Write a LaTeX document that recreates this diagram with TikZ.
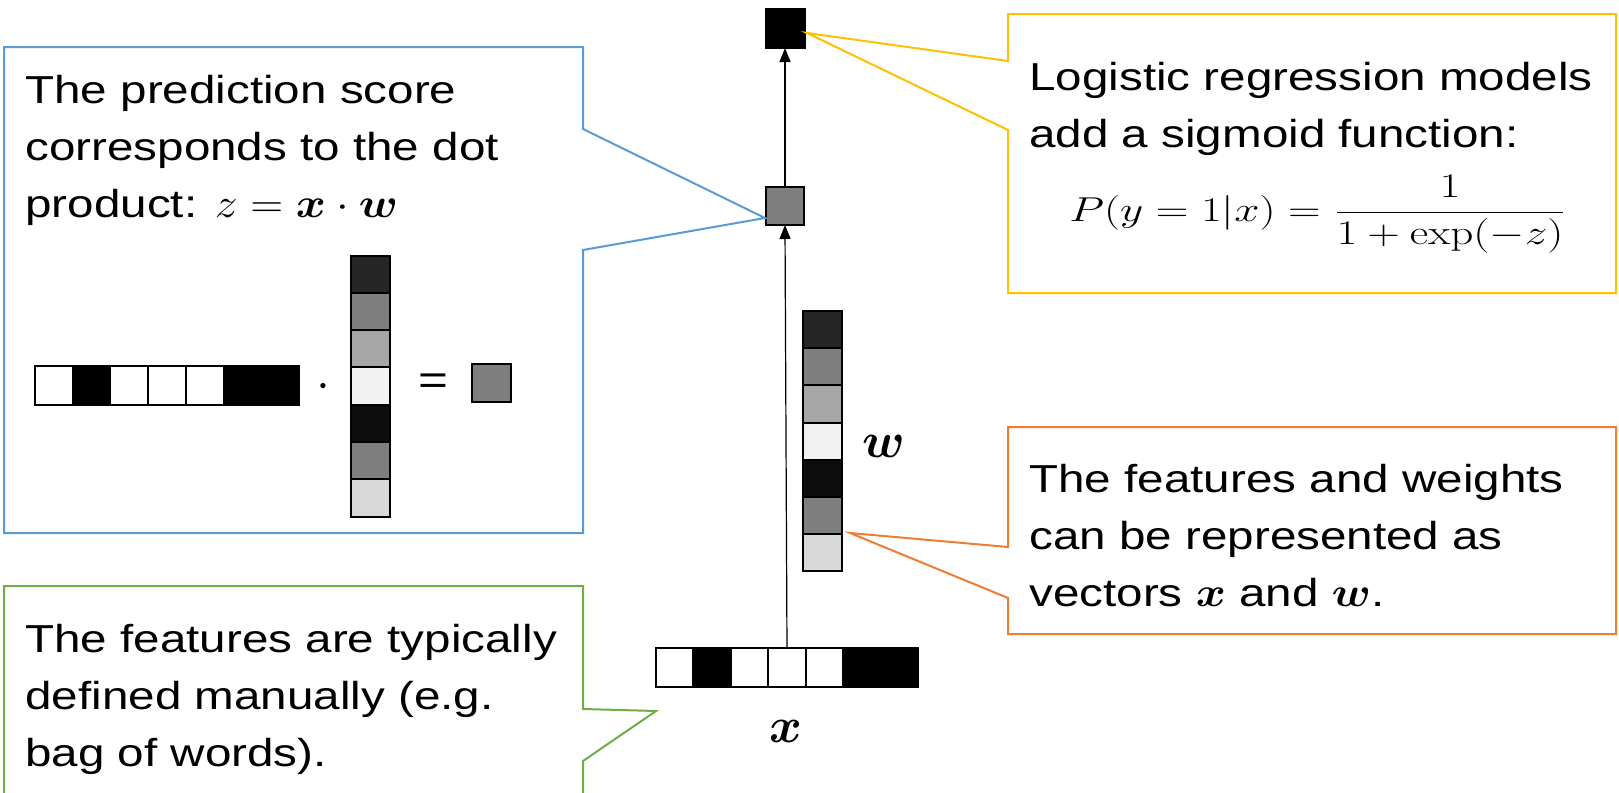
\documentclass[tikz,border=0pt]{standalone}
\usepackage{amsmath}
\usepackage[no-math]{fontspec}
\setmainfont{Liberation Sans}[FakeStretch=1.22]
\usepackage{bm}
\usetikzlibrary{arrows.meta}

\definecolor{calblue}{HTML}{5B9BD5}
\definecolor{calorange}{HTML}{ED7D31}
\definecolor{calyellow}{HTML}{FFC000}
\definecolor{calgreen}{HTML}{70AD47}
\definecolor{wa}{HTML}{262626}
\definecolor{wb}{HTML}{7F7F7F}
\definecolor{wc}{HTML}{A6A6A6}
\definecolor{wd}{HTML}{F2F2F2}
\definecolor{we}{HTML}{0D0D0D}
\definecolor{wf}{HTML}{7F7F7F}
\definecolor{wg}{HTML}{D9D9D9}

% widened math, to sit with the widened text face
\newcommand{\wmath}[2][1.15]{\scalebox{#1}[1]{$#2$}}

\tikzset{
  callout/.style={line width=1pt, fill=white, line join=miter},
  cell/.style={draw=black, line width=1pt, inner sep=0pt, outer sep=0pt,
               minimum width=18.85pt, minimum height=19.5pt},
  vcell/.style={cell, minimum width=19.5pt, minimum height=18.65pt},
  txt/.style={inner sep=0pt, anchor=base west, font=\fontsize{19.5}{28.5}\selectfont},
  veclabel/.style={inner sep=0pt, font=\fontsize{23}{26}\selectfont},
  link/.style={draw=black, line width=0.6pt, -{Triangle[length=7pt,width=5.5pt]}},
}

\begin{document}
\begin{tikzpicture}[x=0.5pt,y=-0.5pt]
\useasboundingbox (0,0) rectangle (1619,793);

% ---------- central network ----------
\node[cell, fill=black, minimum width=19.5pt, minimum height=19.5pt] (top) at (785,28.5) {};
\node[cell, fill=wb, minimum width=19pt, minimum height=19pt] (mid) at (785,206) {};

% feature vector x
\foreach \c [count=\i] in {white,black,white,white,white,black,black}
  \node[cell, fill=\c, minimum width=18.7pt] (xv\i) at ({656+18.7+(\i-1)*37.43},667.5) {};
% weight vector w
\foreach \c [count=\i] in {wa,wb,wc,wd,we,wf,wg}
  \node[vcell, fill=\c, minimum height=18.6pt] (wv\i) at (822.5,{311+18.6+(\i-1)*37.2}) {};

\node[veclabel] (xlab) at (786,731) {$\bm{x}$};
\node[veclabel] (wlab) at (884,446) {$\bm{w}$};

\draw[link] (xv4.north) -- (mid.south);
\draw[link] (mid.north) -- (top.south);

% ---------- callout anchors ----------
\coordinate (bluetip) at (765,218);
\coordinate (yellowtip) at (807,33);
\coordinate (orangetip) at (850,533);
\coordinate (greentip) at (656,711);

% ---------- blue callout: dot product ----------
\draw[callout, draw=calblue] (4,47) -- (583,47) -- (583,129) -- (bluetip)
  -- (583,250) -- (583,533) -- (4,533) -- cycle;
\node[txt] (bluetext) at (25,103) {\parbox[t]{560pt}{\raggedright
  The prediction score\\
  corresponds to the dot\\
  product: {\fontsize{21}{28.5}\selectfont\wmath[1.1]{z = \bm{x}\cdot\bm{w}}}}};

\foreach \c [count=\i] in {white,black,white,white,white,black,black}
  \node[cell, fill=\c] (hx\i) at ({35+18.85+(\i-1)*37.7},385.5) {};
\foreach \c [count=\i] in {wa,wb,wc,wd,we,wf,wg}
  \node[vcell, fill=\c] (hw\i) at (370.5,{255.5+18.65+(\i-1)*37.3}) {};
\node[inner sep=0pt, font=\fontsize{24}{26}\selectfont] (dotop) at (323,387) {$\cdot$};
\node[inner sep=0pt, font=\fontsize{21}{24}\selectfont] (eqop) at (433,384) {=};
\node[cell, fill=wb, minimum width=19.5pt, minimum height=19pt] (res) at (491.5,383) {};

% ---------- yellow callout: sigmoid ----------
\draw[callout, draw=calyellow] (1008,14) -- (1616,14) -- (1616,293) -- (1008,293)
  -- (1008,130) -- (yellowtip) -- (1008,61) -- cycle;
\node[txt] (yellowtext) at (1029,90) {\parbox[t]{580pt}{\raggedright
  Logistic regression models\\
  add a sigmoid function:}};
\node[inner sep=0pt, anchor=base west, font=\fontsize{18.5}{20}\selectfont] (sigmoid) at (1069,221)
  {\wmath[1.31]{\displaystyle P(y=1|x)=\frac{1}{1+\exp(-z)}}};

% ---------- orange callout: vectors ----------
\draw[callout, draw=calorange] (1008,427) -- (1616,427) -- (1616,634) -- (1008,634)
  -- (1008,598) -- (orangetip) -- (1008,547) -- cycle;
\node[txt] (orangetext) at (1029,492) {\parbox[t]{580pt}{\raggedright
  The features and weights\\
  can be represented as\\
  vectors {\fontsize{21}{28.5}\selectfont\wmath[1.1]{\bm{x}}} and {\fontsize{21}{28.5}\selectfont\wmath[1.1]{\bm{w}}}.}};

% ---------- green callout: features ----------
\draw[callout, draw=calgreen] (4,810) -- (4,586) -- (583,586) -- (583,709) -- (greentip)
  -- (583,761) -- (583,810);
\node[txt] (greentext) at (25,652) {\parbox[t]{560pt}{\raggedright
  The features are typically\\
  defined manually (e.g.\\
  bag of words).}};
\end{tikzpicture}
\end{document}
